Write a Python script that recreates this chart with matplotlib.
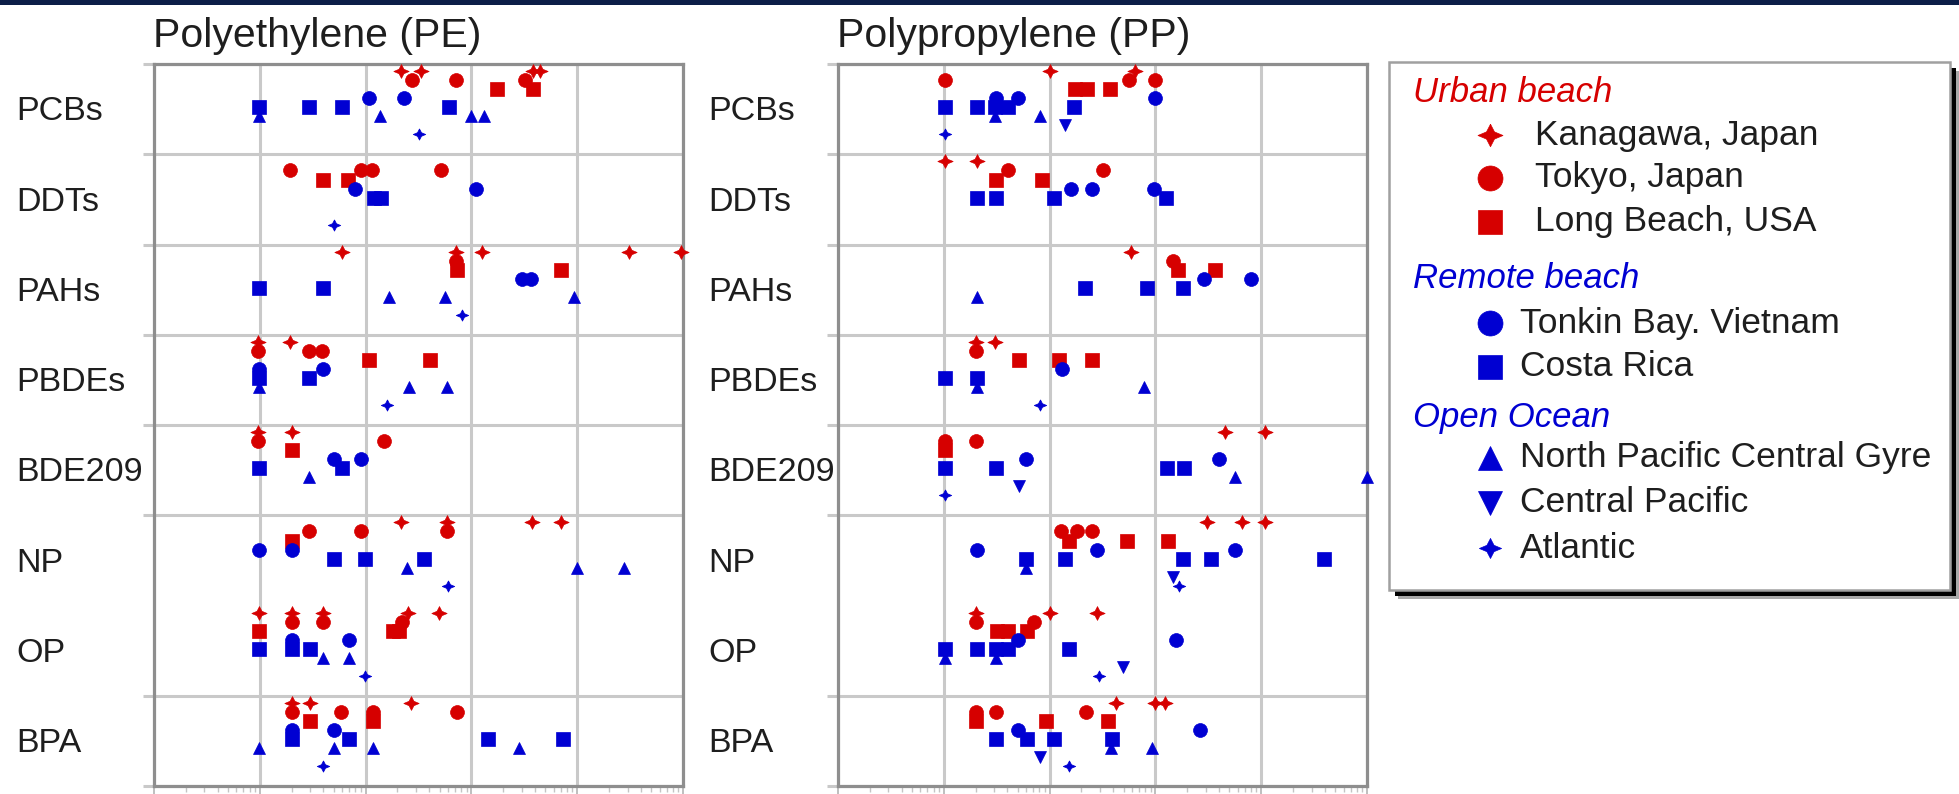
import numpy as np
import matplotlib
matplotlib.use("Agg")
import matplotlib.pyplot as plt
from matplotlib.ticker import LogLocator, NullFormatter
from matplotlib.transforms import blended_transform_factory
from matplotlib.patches import Rectangle

plt.rcParams['font.family'] = ['Liberation Sans', 'DejaVu Sans']

# compounds, top to bottom
COMPOUNDS = ["PCBs", "DDTs", "PAHs", "PBDEs", "BDE209", "NP", "OP", "BPA"]

SITES = ["Kanagawa, Japan", "Tokyo, Japan", "Long Beach, USA",
         "Tonkin Bay. Vietnam", "Costa Rica",
         "North Pacific Central Gyre", "Central Pacific", "Atlantic"]
GROUPS = ["Urban beach", "Remote beach", "Open Ocean"]

# log10 concentration (ng/g), one dict per site and polymer
pe_kanagawa = {"PCBs": [1.335, 1.525, 2.585, 2.65], "PAHs": [0.775, 1.85, 2.10, 3.49, 3.98],
               "PBDEs": [-0.02, 0.29], "BDE209": [-0.02, 0.30], "NP": [1.33, 1.77, 2.575, 2.85],
               "OP": [-0.01, 0.30, 0.60, 1.405, 1.69], "BPA": [0.30, 0.47, 1.43]}
pe_tokyo = {"PCBs": [1.44, 1.85, 2.51], "DDTs": [0.29, 0.955, 1.065, 1.715], "PAHs": [1.85],
            "PBDEs": [-0.02, 0.465, 0.59], "BDE209": [-0.02, 1.17], "NP": [0.465, 0.955, 1.77],
            "OP": [0.30, 0.60, 1.34], "BPA": [0.30, 0.77, 1.07, 1.86]}
pe_longbeach = {"PCBs": [2.24, 2.585], "DDTs": [0.60, 0.83], "PAHs": [1.86, 2.845],
                "PBDEs": [1.035, 1.61], "BDE209": [0.30], "NP": [0.30],
                "OP": [-0.01, 1.255, 1.32], "BPA": [0.47, 1.07]}
pe_tonkin = {"PCBs": [1.03, 1.36], "DDTs": [0.90, 2.04], "PAHs": [2.48, 2.56],
             "PBDEs": [-0.01, 0.60], "BDE209": [0.70, 0.955], "NP": [-0.01, 0.30],
             "OP": [0.30, 0.84], "BPA": [0.30, 0.70]}
pe_costarica = {"PCBs": [-0.01, 0.465, 0.78, 1.79], "DDTs": [1.08, 1.145], "PAHs": [-0.01, 0.60],
                "PBDEs": [-0.01, 0.465], "BDE209": [-0.01, 0.775], "NP": [0.70, 0.99, 1.55],
                "OP": [-0.01, 0.30, 0.47], "BPA": [0.30, 0.84, 2.16, 2.87]}
pe_npcg = {"PCBs": [-0.01, 1.14, 2.0, 2.12], "PAHs": [1.225, 1.75, 2.97],
           "PBDEs": [-0.01, 1.41, 1.77], "BDE209": [0.465], "NP": [1.39, 3.0, 3.44],
           "OP": [0.60, 0.84], "BPA": [-0.01, 0.70, 1.07, 2.45]}
pe_centralpacific = {}
pe_atlantic = {"PCBs": [1.50], "DDTs": [0.70], "PAHs": [1.91], "PBDEs": [1.20],
               "NP": [1.78], "OP": [0.99], "BPA": [0.60]}

pp_kanagawa = {"PCBs": [1.0, 1.805], "DDTs": [0.01, 0.31], "PAHs": [1.765], "PBDEs": [0.30, 0.48],
               "BDE209": [2.66, 3.04], "NP": [2.49, 2.82, 3.04], "OP": [0.30, 1.0, 1.45],
               "BPA": [1.63, 2.0, 2.09]}
pp_tokyo = {"PCBs": [0.01, 1.75, 2.0], "DDTs": [0.61, 1.50], "PAHs": [2.17], "PBDEs": [0.30],
            "BDE209": [0.01, 0.30], "NP": [1.11, 1.26, 1.40], "OP": [0.30, 0.85],
            "BPA": [0.30, 0.49, 1.34]}
pp_longbeach = {"PCBs": [1.24, 1.35, 1.57], "DDTs": [0.49, 0.93], "PAHs": [2.21, 2.565],
                "PBDEs": [0.715, 1.085, 1.40], "BDE209": [0.01], "NP": [1.185, 1.73, 2.12],
                "OP": [0.50, 0.61, 0.79], "BPA": [0.30, 0.965, 1.555]}
pp_tonkin = {"PCBs": [0.49, 0.70, 2.0], "DDTs": [1.20, 1.40, 1.99], "PAHs": [2.455, 2.90],
             "PBDEs": [1.115], "BDE209": [0.78, 2.60], "NP": [0.31, 1.45, 2.75],
             "OP": [0.70, 2.19], "BPA": [0.70, 2.42]}
pp_costarica = {"PCBs": [0.01, 0.31, 0.48, 0.605, 1.23], "DDTs": [0.31, 0.49, 1.04, 2.10],
                "PAHs": [1.33, 1.92, 2.26], "PBDEs": [0.01, 0.31], "BDE209": [0.01, 0.49, 2.11, 2.27],
                "NP": [0.78, 1.15, 2.26, 2.53, 3.59], "OP": [0.01, 0.31, 0.49, 0.605, 1.185],
                "BPA": [0.49, 0.79, 1.04, 1.59]}
pp_npcg = {"PCBs": [0.48, 0.91], "PAHs": [0.31], "PBDEs": [0.31, 1.89], "BDE209": [2.75, 4.0],
           "NP": [0.78], "OP": [0.01, 0.49], "BPA": [1.585, 1.97]}
pp_centralpacific = {"PCBs": [1.15], "BDE209": [0.71], "NP": [2.17], "OP": [1.69], "BPA": [0.91]}
pp_atlantic = {"PCBs": [0.01], "PBDEs": [0.91], "BDE209": [0.01], "NP": [2.22], "OP": [1.47],
               "BPA": [1.185]}

PE = [pe_kanagawa, pe_tokyo, pe_longbeach, pe_tonkin, pe_costarica,
      pe_npcg, pe_centralpacific, pe_atlantic]
PP = [pp_kanagawa, pp_tokyo, pp_longbeach, pp_tonkin, pp_costarica,
      pp_npcg, pp_centralpacific, pp_atlantic]

# styles
RED = '#d60000'
BLUE = '#0000d2'
GRID = '#c9c9c9'
SPINE = '#8e8e8e'
TEXT = '#1e1e1e'

# fat four point star, looks like the blocky plus in the original
_ang = np.pi / 2 + np.arange(9) * np.pi / 4
_rad = np.where(np.arange(9) % 2 == 0, 1.0, 0.45)
STAR = list(zip(_rad * np.cos(_ang), 0.9 * _rad * np.sin(_ang)))

SITE_MARKERS = [STAR, 'o', 's', 'o', 's', '^', 'v', STAR]
SITE_COLORS = [RED, RED, RED, BLUE, BLUE, BLUE, BLUE, BLUE]
PLOT_MS = [11, 10, 9.5, 10, 9.5, 8.5, 8.5, 9]
LEGEND_MS = [18, 18, 17, 18, 17, 17, 17, 16]
GROUP_COLORS = [RED, BLUE, BLUE]

W, H = 1959, 794
fig = plt.figure(figsize=(W / 100, H / 100), dpi=100)

# dark strip on top
fig.add_artist(Rectangle((0, 1 - 5 / H), 1, 5 / H, transform=fig.transFigure,
                         color='#0c1e48', lw=0))


def draw_panel(left_px, site_series, title, label_x_px):
    ax = fig.add_axes([left_px / W, 1 - 786 / H, 529 / W, 722 / H])
    for k, series in enumerate(site_series):
        for i, comp in enumerate(COMPOUNDS):
            vals = np.asarray(series.get(comp, []), dtype=float)
            if vals.size == 0:
                continue
            ax.plot(10 ** vals, np.full(vals.size, i + 0.08 + 0.1 * k), ls='none',
                    marker=SITE_MARKERS[k], ms=PLOT_MS[k], mfc=SITE_COLORS[k],
                    mec=SITE_COLORS[k], mew=0.5, clip_on=False, zorder=3)
    ax.set_xscale('log')
    ax.set_xlim(10 ** -1, 10 ** 4)
    ax.set_ylim(len(COMPOUNDS), 0)
    ax.set_xticks(10.0 ** np.arange(-1, 5))
    ax.xaxis.set_minor_locator(LogLocator(base=10, subs=np.arange(2, 10)))
    ax.xaxis.set_minor_formatter(NullFormatter())
    # row separators (NP and OP share one box)
    ax.set_yticks([0, 1, 2, 3, 4, 5, 7, 8])
    ax.grid(True, which='major', color=GRID, lw=2.2)
    ax.set_axisbelow(True)
    ax.tick_params(axis='y', length=8, width=2.2, color=GRID, labelleft=False)
    ax.tick_params(axis='x', which='major', length=6, width=1.2, color='#b4b4b4',
                   labelbottom=False)
    ax.tick_params(axis='x', which='minor', length=4, width=1.0, color='#c4c4c4')
    for sp in ax.spines.values():
        sp.set_color(SPINE)
        sp.set_linewidth(2.3)
    trans = blended_transform_factory(fig.transFigure, ax.transData)
    for i, comp in enumerate(COMPOUNDS):
        ax.text(label_x_px / W, i + 0.53, comp, transform=trans, ha='left', va='center',
                fontsize=24.5, color=TEXT)
    fig.text((left_px - 1) / W, 1 - 47 / H, title, ha='left', va='baseline',
             fontsize=29.5, color=TEXT)
    return ax


draw_panel(154, PE, "Polyethylene (PE)", 16)
draw_panel(838, PP, "Polypropylene (PP)", 708)

# legend box drawn by hand
LX, LY, LW, LH = 1389, 62, 561, 528
lax = fig.add_axes([LX / W, 1 - (LY + LH) / H, LW / W, LH / H])
lax.set_xlim(0, LW)
lax.set_ylim(LH, 0)
lax.axis('off')
lax.add_patch(Rectangle((9, 9), LW, LH, facecolor='#a8a8a8', lw=0, clip_on=False, zorder=0))
lax.add_patch(Rectangle((6, 6), LW, LH, facecolor='black', lw=0, clip_on=False, zorder=1))
lax.add_patch(Rectangle((0, 0), LW, LH, facecolor='white', edgecolor='#a0a0a0', lw=1.8,
                        clip_on=False, zorder=2))

GROUP_Y = [30, 216, 356]
SITE_Y = [73, 116, 160, 261, 305, 396, 441, 486]
SITE_TEXT_X = [146, 146, 146, 131, 131, 131, 131, 131]
for g, name in enumerate(GROUPS):
    lax.text(24, GROUP_Y[g], name, color=GROUP_COLORS[g], style='italic', fontsize=25,
             ha='left', va='center', zorder=3)
for k, name in enumerate(SITES):
    lax.plot([101], [SITE_Y[k]], ls='none', marker=SITE_MARKERS[k], ms=LEGEND_MS[k],
             mfc=SITE_COLORS[k], mec=SITE_COLORS[k], mew=0.5, clip_on=False, zorder=3)
    lax.text(SITE_TEXT_X[k], SITE_Y[k], name, color=TEXT, fontsize=25.5,
             ha='left', va='center', zorder=3)

fig.savefig('out.png', dpi=100)
